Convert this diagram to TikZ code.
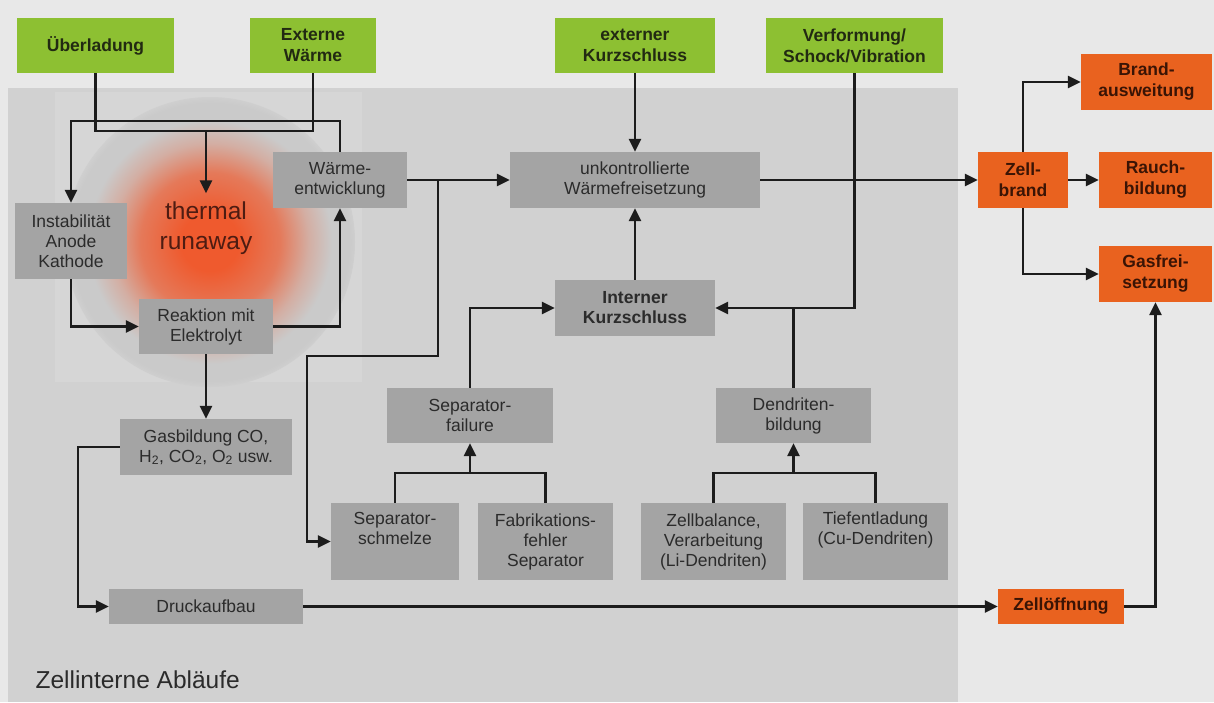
\documentclass[tikz,border=0pt]{standalone}
\usepackage{fontspec}
\setmainfont{Liberation Sans}
\usetikzlibrary{
		positioning,
		arrows.meta
	}
\definecolor{bgouter}{HTML}{E8E8E8}
\definecolor{bginner}{HTML}{D1D1D1}
\definecolor{glowbox}{HTML}{D6D6D6}
\definecolor{diskgray}{HTML}{CACACA}
\definecolor{glowred}{HTML}{EF5A2E}
\definecolor{boxgray}{HTML}{A4A4A4}
\definecolor{boxtext}{HTML}{2B2B2B}
\definecolor{causegreen}{HTML}{8DC032}
\definecolor{causetext}{HTML}{222A12}
\definecolor{effectorange}{HTML}{E9621F}
\definecolor{effecttext}{HTML}{3A1405}
\definecolor{linecol}{HTML}{1C1C1C}
\definecolor{runawaytext}{HTML}{4E1C12}
\colorlet{glowmid}{glowred!72!diskgray}
\colorlet{glowlow}{glowred!25!diskgray}
\colorlet{diskedge}{diskgray!60!glowbox}
\pgfdeclareradialshading{glow}{\pgfpoint{0bp}{0bp}}{color(0bp)=(glowred); color(5bp)=(glowred); color(12bp)=(glowmid); color(17bp)=(glowlow); color(21bp)=(diskgray); color(24bp)=(diskgray); color(25bp)=(diskedge); color(50bp)=(diskedge)}
\tikzset{
		>={Triangle[length=13pt,width=12pt]},
		size/.style 2 args={minimum width=#1pt, minimum height=#2pt},
		box/.style={fill=boxgray, text=boxtext, inner sep=0pt, align=center, font=\fontsize{17.5}{20}\selectfont},
		cause/.style={box, fill=causegreen, text=causetext, font=\fontsize{17.5}{21}\selectfont\bfseries},
		effect/.style={box, fill=effectorange, text=effecttext, font=\fontsize{17.5}{21}\selectfont\bfseries},
		link/.style={draw=linecol, line width=2.6pt},
		flow/.style={link, ->}
	}

\begin{document}
\begin{tikzpicture}[x=1pt, y=-1pt] % one unit = one pixel, y runs downwards
		\fill[bgouter] (0,0) rectangle (1214,702);
		\fill[bginner] (8,88) rectangle (958,702); % zellintern
		\fill[glowbox] (55,92) rectangle (362,382);
		\shade[shading=glow] (210,242) circle (145);
		\node[align=center, text=runawaytext, inner sep=8pt, font=\fontsize{24.5}{30}\selectfont] (thermal) at (206,228) {thermal\\runaway};
		\node[anchor=base west, text=boxtext, font=\fontsize{24.5}{30}\selectfont] (area) at (32,688) {Zellinterne Abläufe};

		% Ursachen
		\node[cause, size={157}{55}] (ueber) at (95.5,45.5) {Überladung};
		\node[cause, size={126}{55}] (extw) at (313,45.5) {Externe\\Wärme};
		\node[cause, size={160}{55}] (extk) at (635,45.5) {externer\\Kurzschluss};
		\node[cause, size={177}{55}] (verf) at (854.5,45.5) {Verformung/\\Schock/Vibration};

		% Abläufe in der Zelle
		\node[box, size={112}{76}] (instab) at (71,241) {Instabilität\\Anode\\Kathode};
		\node[box, size={134}{56}] (waerme) at (340,180) {Wärme-\\entwicklung};
		\node[box, size={134}{55}] (reakt) at (206,326.5) {Reaktion mit\\Elektrolyt};
		\node[box, size={172}{56}] (gas) at (206,447) {Gasbildung CO,\\H\textsubscript{2}, CO\textsubscript{2}, O\textsubscript{2} usw.};
		\node[box, size={194}{35}] (druck) at (206,606.5) {Druckaufbau};
		\node[box, size={250}{56}] (unkontr) at (635,180) {unkontrollierte\\Wärmefreisetzung};
		\node[box, size={160}{56}, font=\fontsize{17.5}{20}\selectfont\bfseries] (intern) at (635,308) {Interner\\Kurzschluss};
		\node[box, size={166}{55}] (sepfail) at (470,415.5) {Separator-\\failure};
		\node[box, size={155}{55}] (dendr) at (793.5,415.5) {Dendriten-\\bildung};
		\node[box, size={128}{77}] (sepschm) at (395,541.5) {Separator-\\schmelze\\\strut};
		\node[box, size={135}{77}] (fab) at (545.5,541.5) {Fabrikations-\\fehler\\Separator};
		\node[box, size={145}{77}] (zellbal) at (713.5,541.5) {Zellbalance,\\Verarbeitung\\(Li-Dendriten)};
		\node[box, size={145}{77}] (tief) at (875.5,541.5) {Tiefentladung\\(Cu-Dendriten)\\\strut};

		% Folgen
		\node[effect, size={90}{56}] (brand) at (1023,180) {Zell-\\brand};
		\node[effect, size={131}{56}] (ausw) at (1146.5,82) {Brand-\\ausweitung};
		\node[effect, size={113}{56}] (rauch) at (1155.5,180) {Rauch-\\bildung};
		\node[effect, size={113}{56}] (gasfrei) at (1155.5,274) {Gasfrei-\\setzung};
		\node[effect, size={126}{35}] (oeff) at (1061,606.5) {Zellöffnung};

		\coordinate (merge) at (206,131);
		\coordinate (wbranch) at (438,180);
		\coordinate (wknee) at (307,356);
		\coordinate (sjoin) at (470,473);
		\coordinate (djoin) at (793.5,473);

		\draw[link] (ueber.south) |- (merge) -| (extw.south);
		\draw[flow] (merge) -- (thermal.north);
		\draw[flow] (waerme.north) -- ++(0,-31) -| (instab.north);
		\draw[flow] (instab.south) |- (reakt.west);
		\draw[flow] (reakt.east) -| (waerme.south);
		\draw[flow] (reakt.south) -- (gas.north);
		\draw[flow] (gas.west) -- ++(-42,0) |- (druck.west);
		\draw[flow] (druck.east) -- (oeff.west);
		\draw[flow] (oeff.east) -| (gasfrei.south);
		\draw[flow] (waerme.east) -- (unkontr.west);
		\draw[flow] (wbranch) |- (wknee) |- (sepschm.west);
		\draw[flow] (extk.south) -- (unkontr.north);
		\draw[flow] (intern.north) -- (unkontr.south);
		\draw[flow] (sepfail.north) |- (intern.west);
		\draw[flow] (verf.south) |- (intern.east);
		\draw[link] (dendr.north) -- (dendr.north |- intern.east);
		\draw[link] (sepschm.north) |- (sjoin) -| (fab.north);
		\draw[flow] (sjoin) -- (sepfail.south);
		\draw[link] (zellbal.north) |- (djoin) -| (tief.north);
		\draw[flow] (djoin) -- (dendr.south);
		\draw[flow] (unkontr.east) -- (brand.west);
		\draw[flow] (brand.north) |- (ausw.west);
		\draw[flow] (brand.east) -- (rauch.west);
		\draw[flow] (brand.south) |- (gasfrei.west);
	\end{tikzpicture}
\end{document}
